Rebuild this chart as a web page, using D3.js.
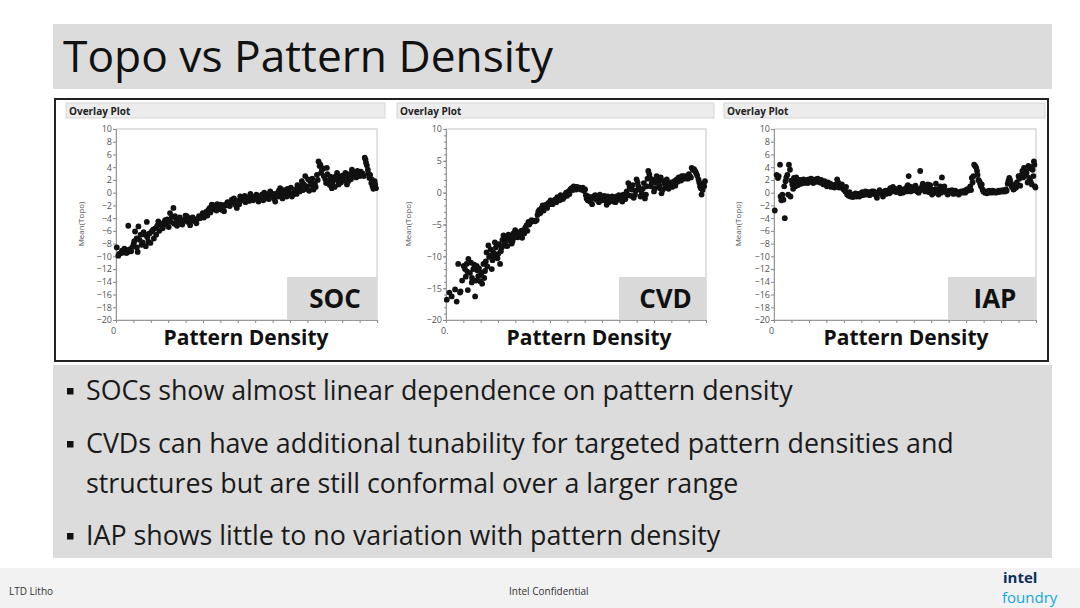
<!DOCTYPE html>
<html>
<head>
<meta charset="utf-8">
<script src="https://cdn.jsdelivr.net/npm/d3@7"></script>
<style>
  body { margin: 0; background: #fff; }
  text { font-family: "Open Sans", "Noto Sans", sans-serif; }
</style>
</head>
<body>
<div id="chart"></div>
<script>
// ---- data (x = pattern density, % of range; y = Mean(Topo)) ----
const socPoints = [
  [0.3,-8.6],[0.9,-9.9],[1.2,-9.6],[1.9,-9.5],[2.3,-9.1],[2.8,-9.4],[3.2,-8.8],[3.7,-9.0],[4.0,-9.5],[4.5,-9.3],
  [4.7,-5.2],[5.2,-8.9],[5.8,-9.2],[6.3,-8.5],[6.8,-8.0],[7.0,-7.6],[7.3,-6.1],[7.9,-7.2],[8.0,-8.6],[8.3,-9.3],
  [8.6,-5.3],[9.0,-7.4],[9.4,-6.6],[9.8,-8.2],[10.2,-7.8],[10.6,-6.2],[11.1,-6.6],[11.4,-8.4],[11.8,-4.6],[12.0,-7.0],
  [12.4,-7.7],[12.8,-6.4],[13.2,-7.9],[13.7,-6.1],[14.2,-5.8],[14.5,-7.2],[15.0,-5.6],[15.4,-6.6],[15.8,-5.2],[16.2,-4.5],
  [16.6,-6.0],[17.0,-4.9],[17.5,-5.1],[17.9,-5.6],[18.3,-4.7],[18.8,-4.3],[19.2,-5.0],[19.6,-4.2],[20.2,-5.4],[20.7,-3.2],
  [21.0,-4.6],[21.4,-3.8],[22.0,-2.4],[22.3,-4.9],[22.6,-3.7],[23.0,-4.1],[23.4,-5.2],[23.9,-4.5],[24.4,-3.9],[24.8,-4.8],
  [25.4,-5.0],[25.8,-4.3],[26.2,-4.4],[26.6,-3.6],[27.1,-3.7],[27.6,-4.6],[28.0,-4.0],[28.4,-5.1],[28.9,-4.4],[29.4,-3.9],
  [30.3,-4.5],[30.8,-4.8],[31.3,-4.1],[31.8,-3.7],[32.2,-4.0],[32.7,-3.8],[33.2,-3.2],[33.7,-3.9],[34.1,-3.5],[34.6,-3.0],
  [35.0,-3.6],[35.4,-2.7],[35.9,-2.4],[36.2,-3.1],[36.7,-1.9],[37.2,-2.6],[37.6,-2.0],[38.0,-2.4],[38.5,-2.8],[38.8,-1.8],
  [39.3,-2.2],[39.8,-2.6],[40.1,-1.9],[40.5,-2.7],[41.0,-2.3],[41.4,-2.9],[41.8,-1.9],[42.3,-2.0],[42.7,-1.5],[43.1,-1.6],
  [43.6,-2.1],[44.0,-1.4],[44.4,-1.1],[44.9,-1.6],[45.2,-0.9],[45.7,-1.9],[46.3,-2.4],[46.8,-1.3],[47.2,-1.8],[47.6,-0.6],
  [48.2,-1.2],[48.8,-0.8],[49.3,-0.5],[49.6,-1.5],[50.1,-1.1],[50.6,-0.7],[51.0,-1.3],[51.5,-0.2],[52.0,-0.6],[52.6,-1.2],
  [53.3,-0.8],[53.8,-0.3],[54.1,-1.0],[54.6,-1.4],[55.2,-0.8],[55.9,-0.3],[56.4,-1.2],[56.8,0.0],[57.3,-0.9],[57.8,-0.6],
  [58.4,-0.2],[58.6,-1.0],[59.1,0.2],[59.6,-0.5],[60.3,-0.2],[60.6,-0.9],[61.0,-1.4],[61.6,-0.1],[62.2,-0.6],[62.4,0.3],
  [62.9,0.7],[63.4,-0.2],[63.8,-0.9],[64.3,0.4],[64.8,-0.3],[65.4,-0.6],[65.7,0.6],[66.1,0.2],[66.6,-0.1],[67.0,0.8],
  [67.4,-0.6],[67.9,-0.3],[68.2,0.1],[68.7,0.5],[69.2,-0.2],[69.5,1.2],[69.9,0.7],[70.4,0.2],[70.8,1.0],[71.2,1.8],
  [71.7,0.4],[72.0,1.3],[72.5,2.6],[72.9,0.6],[73.1,1.0],[73.6,2.1],[74.0,0.3],[74.4,1.8],[74.8,1.2],[75.2,2.2],
  [75.7,0.5],[76.2,1.4],[76.5,0.9],[77.0,2.8],[77.3,2.0],[77.6,4.9],[78.0,4.2],[78.3,4.4],[78.6,3.1],[78.9,3.6],
  [79.4,3.8],[79.6,2.6],[80.2,2.1],[80.5,1.5],[80.8,3.9],[81.0,2.9],[81.5,1.8],[81.9,1.2],[82.2,2.5],[82.7,0.7],
  [83.0,1.6],[83.4,2.1],[83.8,0.9],[84.2,2.6],[84.7,3.1],[85.0,1.9],[85.3,1.3],[85.8,2.6],[86.2,1.6],[86.6,2.3],
  [87.0,2.7],[87.4,1.9],[87.9,3.1],[88.2,2.4],[88.5,1.3],[89.0,1.8],[89.4,2.9],[89.8,2.6],[90.0,2.1],[90.4,3.6],
  [90.8,2.6],[91.2,3.2],[91.7,2.8],[92.0,2.4],[92.5,3.4],[93.0,3.1],[93.4,2.6],[93.8,3.3],[94.2,2.8],[94.6,3.0],
  [95.0,2.6],[95.3,5.5],[95.6,5.2],[95.8,4.7],[96.1,4.3],[96.5,3.6],[96.8,3.0],[97.1,2.3],[97.4,2.8],[97.8,1.5],
  [98.0,2.1],[98.3,1.0],[98.6,0.6],[99.1,1.8],[99.3,1.3],[99.6,0.7]
]

const cvdPoints = [
  [0.3,-16.8],[1.3,-15.7],[2.2,-16.3],[3.5,-15.2],[4.1,-17.1],[4.7,-11.2],[5.4,-15.7],[5.6,-15.5],[6.2,-13.8],[6.8,-11.5],
  [7.3,-12.0],[7.6,-13.2],[7.9,-11.2],[8.2,-12.4],[8.4,-15.3],[8.6,-10.4],[9.2,-12.6],[9.6,-11.0],[9.9,-14.1],[10.0,-13.4],
  [10.5,-12.0],[10.8,-11.3],[11.2,-16.3],[11.5,-13.8],[11.8,-11.5],[12.0,-12.2],[12.4,-13.1],[12.7,-11.9],[13.1,-13.9],[13.4,-12.9],
  [13.7,-12.6],[13.9,-14.3],[14.4,-11.2],[14.7,-13.4],[15.0,-12.3],[15.3,-10.8],[15.6,-9.4],[15.9,-11.6],[16.3,-8.3],[16.6,-10.1],
  [16.9,-9.9],[17.2,-8.9],[17.6,-12.0],[17.9,-10.6],[18.2,-9.4],[18.5,-9.9],[18.8,-7.8],[19.2,-8.6],[19.5,-9.9],[19.8,-10.3],
  [20.1,-9.6],[20.4,-8.1],[20.8,-11.2],[21.1,-9.2],[21.4,-8.6],[21.7,-7.4],[22.1,-6.7],[22.4,-8.3],[22.7,-7.8],[23.0,-6.9],
  [23.3,-7.2],[23.6,-8.4],[24.0,-6.6],[24.6,-7.5],[24.9,-7.0],[25.3,-8.0],[25.6,-7.6],[25.9,-6.4],[26.2,-7.1],[26.6,-5.9],
  [27.2,-6.2],[27.6,-7.0],[27.9,-6.6],[28.5,-6.7],[28.9,-6.0],[29.3,-7.1],[29.7,-5.9],[30.1,-6.4],[30.5,-5.5],[31.0,-5.1],
  [31.3,-6.0],[31.7,-4.6],[32.0,-5.0],[32.4,-4.7],[32.9,-4.3],[33.4,-4.5],[33.8,-4.4],[34.3,-4.5],[34.9,-4.3],[35.2,-3.5],
  [35.5,-3.0],[35.9,-2.7],[36.3,-3.2],[36.8,-2.4],[37.2,-2.0],[37.6,-2.8],[38.1,-2.2],[38.5,-1.9],[38.9,-2.4],[39.4,-1.6],
  [39.8,-1.8],[40.2,-1.2],[40.6,-1.4],[41.0,-1.8],[41.5,-1.4],[41.9,-1.1],[42.4,-1.5],[42.8,-0.7],[43.2,-0.9],[43.7,-1.2],
  [44.1,-0.4],[44.5,-0.6],[44.9,-1.0],[45.3,-0.8],[45.8,-0.3],[46.2,0.0],[46.6,-0.5],[47.1,0.2],[47.5,-0.2],[47.8,0.5],
  [48.3,0.7],[48.8,0.4],[49.1,1.0],[49.6,0.9],[50.1,0.5],[50.4,0.9],[50.9,0.7],[51.4,0.8],[51.8,0.5],[52.2,0.6],
  [52.6,0.8],[53.0,0.3],[53.5,0.5],[53.8,-0.4],[54.1,-0.9],[54.5,-1.2],[54.8,-0.6],[55.4,-1.4],[55.8,-0.9],[56.2,-1.8],
  [56.7,-0.6],[57.0,-0.9],[57.4,-0.4],[57.9,-1.1],[58.4,-0.7],[58.8,-1.5],[59.2,-0.3],[59.6,-0.9],[60.0,-1.2],[60.5,-0.9],
  [60.9,-0.5],[61.3,-1.2],[61.8,-1.9],[62.2,-0.6],[62.6,-1.5],[63.1,-0.9],[63.5,-1.1],[63.9,-0.6],[64.4,-1.4],[64.8,-0.9],
  [65.2,-1.5],[65.6,-0.6],[66.1,-0.9],[66.5,-0.4],[66.9,-1.1],[67.4,-0.8],[67.8,-1.4],[68.2,-0.3],[68.7,-0.6],[69.0,-1.0],
  [69.5,0.2],[69.9,-0.4],[70.1,1.5],[70.6,0.9],[71.0,-0.5],[71.4,0.5],[71.8,1.2],[72.2,-0.8],[72.7,-0.3],[73.0,0.3],
  [73.3,2.1],[73.7,1.6],[74.0,1.0],[74.5,0.5],[74.8,-0.6],[75.3,-0.1],[75.7,0.6],[76.1,1.5],[76.5,-0.9],[76.9,-0.3],
  [77.2,1.0],[77.5,2.2],[77.8,3.4],[78.2,2.9],[78.5,2.3],[78.8,1.0],[79.1,1.5],[79.6,2.0],[80.0,0.2],[80.4,0.7],
  [80.7,1.6],[81.0,2.6],[81.3,2.2],[81.7,1.8],[82.0,1.2],[82.3,0.7],[82.6,2.4],[82.9,-0.1],[83.3,0.4],[83.7,1.8],
  [84.2,1.3],[84.5,0.8],[84.9,2.1],[85.3,1.6],[85.6,0.6],[86.2,1.0],[86.6,1.6],[87.0,0.9],[87.4,1.5],[87.8,1.8],
  [88.2,1.1],[88.7,2.1],[89.1,1.7],[89.5,2.4],[90.0,2.3],[90.4,1.9],[90.7,2.6],[91.3,2.6],[91.7,2.2],[92.1,2.6],
  [92.6,2.4],[93.0,2.2],[93.4,2.9],[93.8,2.6],[94.2,2.4],[94.5,3.9],[94.9,3.6],[95.4,3.7],[95.8,3.4],[96.2,3.1],
  [96.6,2.7],[97.1,2.1],[97.4,1.6],[97.7,1.0],[98.0,0.7],[98.3,-0.3],[98.7,0.4],[99.0,1.3],[99.3,1.0],[99.6,1.8]
]

const iapPoints = [
  [0.3,-2.8],[1.0,2.8],[1.5,2.3],[1.8,2.6],[2.3,4.4],[2.5,-0.6],[2.8,-1.2],[3.0,-0.8],[3.2,-0.3],[3.6,-1.1],
  [3.9,1.0],[4.1,-4.0],[4.4,1.8],[4.7,2.4],[5.1,2.8],[5.4,-0.3],[5.7,4.4],[6.1,3.6],[6.3,-0.6],[6.6,1.9],
  [7.0,1.3],[7.3,0.6],[7.6,2.3],[7.9,1.6],[8.2,1.0],[8.5,2.4],[8.9,2.1],[9.2,1.2],[9.5,1.5],[9.9,2.0],
  [10.3,1.4],[10.8,1.8],[11.2,2.1],[11.6,1.5],[12.1,1.8],[12.5,2.0],[12.9,1.5],[13.3,2.1],[13.8,1.7],[14.2,2.2],
  [14.6,1.8],[15.0,1.5],[15.4,2.0],[15.9,2.1],[16.3,1.7],[16.7,2.2],[17.1,1.9],[17.6,1.6],[18.0,2.0],[18.4,1.5],
  [18.9,1.3],[19.3,1.8],[19.7,1.3],[20.2,1.0],[20.6,1.6],[20.9,1.2],[21.5,1.4],[21.8,0.9],[22.2,1.0],[22.8,1.2],
  [23.1,0.8],[23.5,1.3],[24.1,2.1],[24.5,1.6],[24.8,0.8],[25.4,1.0],[25.9,1.3],[26.2,0.7],[26.6,0.5],[27.2,0.2],
  [27.5,0.9],[27.9,-0.3],[28.5,-0.5],[28.8,0.1],[29.2,-0.6],[29.8,-0.3],[30.1,-0.7],[30.5,-0.3],[31.1,-0.1],[31.4,-0.6],
  [31.7,-0.4],[32.3,-0.2],[32.6,-0.6],[33.0,-0.3],[33.6,0.1],[33.9,-0.4],[34.3,-0.1],[34.9,0.2],[35.2,-0.3],[35.5,0.1],
  [36.2,0.1],[36.5,-0.4],[36.8,-0.1],[37.4,0.2],[37.8,-0.2],[38.1,0.2],[38.7,0.0],[39.0,-0.5],[39.3,-0.8],[40.0,-0.1],
  [40.3,0.4],[40.6,0.2],[41.2,0.0],[41.6,-0.6],[41.9,-0.3],[42.5,0.3],[42.8,-0.2],[43.1,0.2],[43.8,0.4],[44.1,-0.1],
  [44.4,0.7],[45.0,0.2],[45.4,0.9],[45.7,0.5],[46.3,0.6],[46.6,0.1],[47.0,0.2],[47.6,0.4],[47.9,0.8],[48.2,-0.1],
  [48.8,0.3],[49.2,0.0],[49.5,0.5],[50.1,0.6],[50.5,0.2],[50.8,1.0],[51.1,1.2],[51.4,2.6],[51.7,0.5],[52.0,0.2],
  [52.4,0.9],[52.7,0.3],[53.3,0.7],[53.6,0.4],[54.0,1.1],[54.6,0.2],[54.9,0.6],[55.2,0.0],[55.8,3.4],[56.1,0.4],
  [56.5,1.0],[56.8,1.4],[57.1,0.6],[57.7,0.2],[58.0,0.3],[58.4,0.7],[58.7,1.3],[59.0,0.1],[59.6,1.2],[60.0,0.5],
  [60.3,-0.3],[60.9,-0.1],[61.2,0.4],[61.5,0.5],[61.8,1.4],[62.2,0.2],[62.8,-0.3],[63.1,0.6],[63.5,1.0],[63.8,0.0],
  [64.1,2.4],[64.4,0.2],[64.7,0.5],[65.0,1.0],[65.4,0.3],[66.0,-0.1],[66.3,-0.3],[66.7,0.3],[67.3,0.2],[67.6,0.0],
  [67.9,0.4],[68.5,-0.2],[68.9,0.0],[69.2,0.3],[69.8,-0.1],[70.2,0.1],[70.5,-0.3],[71.1,0.1],[71.4,0.2],[71.8,0.0],
  [72.3,0.2],[72.7,0.3],[73.0,0.0],[73.6,0.5],[73.9,0.3],[74.3,0.6],[74.9,1.0],[75.2,0.4],[75.5,2.3],[75.8,1.6],
  [76.1,2.6],[76.4,4.4],[76.8,4.2],[77.2,3.9],[77.5,3.4],[77.7,2.8],[78.0,2.0],[78.4,1.8],[78.7,1.4],[79.0,1.0],
  [79.3,1.3],[79.6,0.5],[79.9,0.2],[80.5,0.0],[80.9,0.2],[81.2,-0.1],[81.8,0.0],[82.1,0.3],[82.5,0.1],[83.1,0.0],
  [83.4,0.3],[83.8,0.2],[84.4,0.2],[84.7,0.0],[85.0,0.1],[85.7,0.3],[86.0,0.1],[86.3,0.3],[86.9,0.2],[87.3,0.4],
  [87.6,0.2],[88.2,0.2],[88.5,0.5],[88.8,0.3],[89.2,1.4],[89.5,1.9],[89.8,2.3],[90.1,2.0],[90.4,1.5],[90.8,0.9],
  [91.1,1.2],[91.4,0.5],[91.7,0.6],[92.0,1.0],[92.4,0.8],[92.7,1.6],[93.3,2.6],[93.6,2.2],[94.0,1.1],[94.5,2.8],
  [94.8,3.4],[95.1,2.4],[95.4,3.9],[95.8,2.7],[96.1,3.8],[96.4,3.1],[96.8,1.6],[97.1,4.2],[97.4,2.3],[97.6,3.8],
  [97.9,1.8],[98.2,4.0],[98.4,1.3],[98.7,3.6],[99.0,2.6],[99.2,4.9],[99.4,4.4],[99.6,1.0],[99.8,0.8]
]

const panelNames = ["SOC", "CVD", "IAP"]
const panelData = [socPoints, cvdPoints, iapPoints]
const yTicks2 = [10,8,6,4,2,0,-2,-4,-6,-8,-10,-12,-14,-16,-18,-20]
const yTicks5 = [10,5,0,-5,-10,-15,-20]
const xTickLabels = ["0", "0.", "0"]

const bullets = [
  ["SOCs show almost linear dependence on pattern density"],
  ["CVDs can have additional tunability for targeted pattern densities and", "structures but are still conformal over a larger range"],
  ["IAP shows little to no variation with pattern density"]
]

// ----------------------------------------------------------
const width = 1080
const height = 608

const svg = d3.select("div#chart").append("svg").attr("width", width).attr("height", height)

// title bar
svg.append("rect").attr("x", 53).attr("y", 24).attr("width", 999).attr("height", 65).attr("fill", "#dcdcdc")
svg.append("text")
    .attr("x", 63).attr("y", 72)
    .style("font-size", "44.3px")
    .attr("fill", "#111")
    .text("Topo vs Pattern Density")

// box round the three plots
svg.append("rect").attr("x", 55).attr("y", 99).attr("width", 993).attr("height", 262)
    .attr("fill", "#fff").attr("stroke", "#222").attr("stroke-width", 2)

// panel layout: header bar, plot area, label box
const panels = [
    {hx: 66, hw: 319, left: 116, right: 377, labelX: 84, pdX: 246, boxX: 287, ticks: yTicks2},
    {hx: 397, hw: 317, left: 446, right: 706, labelX: 411, pdX: 589, boxX: 619, ticks: yTicks5},
    {hx: 724, hw: 321, left: 774, right: 1036, labelX: 741, pdX: 906, boxX: 948, ticks: yTicks2}
]
const plotTop = 129
const plotBottom = 320

panels.forEach((p, i) => {
    const g = svg.append("g").attr("class", "panel")

    // "Overlay Plot" header
    g.append("rect").attr("x", p.hx).attr("y", 103).attr("width", p.hw).attr("height", 15)
        .attr("fill", "#ececec").attr("stroke", "#d6d6d6").attr("stroke-width", 1)
    g.append("text").attr("x", p.hx + 3).attr("y", 114.5)
        .style("font-size", "10px").style("font-weight", "bold").attr("fill", "#222")
        .text("Overlay Plot")

    const x = d3.scaleLinear().domain([0, 100]).range([p.left, p.right])
    const y = d3.scaleLinear().domain([-20, 10]).range([plotBottom, plotTop])

    // plot frame
    g.append("rect").attr("x", p.left).attr("y", plotTop)
        .attr("width", p.right - p.left).attr("height", plotBottom - plotTop)
        .attr("fill", "#fff").attr("stroke", "#c4c4c4").attr("stroke-width", 1)

    // label box (SOC / CVD / IAP)
    g.append("rect").attr("x", p.boxX).attr("y", 277)
        .attr("width", p.right - p.boxX).attr("height", plotBottom - 277)
        .attr("fill", "#d9d9d9")
    g.append("text").attr("x", (p.boxX + p.right) / 2 + 3).attr("y", 308)
        .attr("text-anchor", "middle")
        .style("font-size", "26px").style("font-weight", "bold").attr("fill", "#111")
        .text(panelNames[i])

    // y axis with minor ticks
    const yAxisG = g.append("g").attr("transform", `translate(${p.left},0)`)
    yAxisG.call(d3.axisLeft(y).tickValues(p.ticks).tickSize(3).tickPadding(1).tickFormat(d3.format("d")))
    if (p.ticks === yTicks5) {
        yAxisG.append("g")
            .call(d3.axisLeft(y).tickValues(d3.range(-20, 11, 1)).tickSize(2).tickFormat(""))
    }
    yAxisG.selectAll("path.domain").attr("stroke", "#999")
    yAxisG.selectAll("line").attr("stroke", "#888")
    yAxisG.selectAll("text").attr("fill", "#555").style("font-size", "9px")

    // x axis: only the origin is labelled
    const xAxisG = g.append("g").attr("transform", `translate(0,${plotBottom})`)
    xAxisG.call(d3.axisBottom(x).tickValues(d3.range(0, 101, 100 / 15)).tickSize(3).tickFormat(""))
    xAxisG.selectAll("path.domain").attr("stroke", "#999")
    xAxisG.selectAll("line").attr("stroke", "#888")
    g.append("text").attr("x", x(0) - 5).attr("y", 334)
        .style("font-size", "9px").attr("fill", "#555")
        .text(xTickLabels[i])

    // axis titles
    g.append("text")
        .attr("transform", `translate(${p.labelX},224) rotate(-90)`)
        .attr("text-anchor", "middle")
        .style("font-size", "8px").attr("fill", "#555")
        .text("Mean(Topo)")
    g.append("text").attr("x", p.pdX).attr("y", 345)
        .attr("text-anchor", "middle")
        .style("font-size", "21px").style("font-weight", "bold").attr("fill", "#111")
        .text("Pattern Density")

    // points
    g.selectAll(".dot").data(panelData[i]).enter()
        .append("circle").attr("class", "dot")
        .attr("cx", d => x(d[0]))
        .attr("cy", d => y(d[1]))
        .attr("r", 2.9)
        .attr("fill", "#111")
})

// bullet box
svg.append("rect").attr("x", 53).attr("y", 365).attr("width", 999).attr("height", 193).attr("fill", "#dcdcdc")
const lineY = [[400], [453, 493], [545]]
bullets.forEach((lines, i) => {
    svg.append("rect").attr("x", 67).attr("y", lineY[i][0] - 12).attr("width", 6.5).attr("height", 6.5).attr("fill", "#111")
    lines.forEach((t, j) => {
        svg.append("text").attr("x", 86).attr("y", lineY[i][j])
            .style("font-size", "26.8px").attr("fill", "#1a1a1a")
            .text(t)
    })
})

// footer
svg.append("rect").attr("x", 0).attr("y", 568).attr("width", width).attr("height", 40).attr("fill", "#f2f2f2")
svg.append("text").attr("x", 9).attr("y", 595).style("font-size", "10px").attr("fill", "#333").text("LTD Litho")
svg.append("text").attr("x", 509).attr("y", 595).style("font-size", "10px").attr("fill", "#333").text("Intel Confidential")
svg.append("text").attr("x", 1003).attr("y", 583).style("font-size", "15px").style("font-weight", "bold")
    .attr("fill", "#0b2d5e").text("intel")
svg.append("text").attr("x", 1002).attr("y", 603).style("font-size", "15px")
    .attr("fill", "#14a7e0").text("foundry")
</script>
</body>
</html>
